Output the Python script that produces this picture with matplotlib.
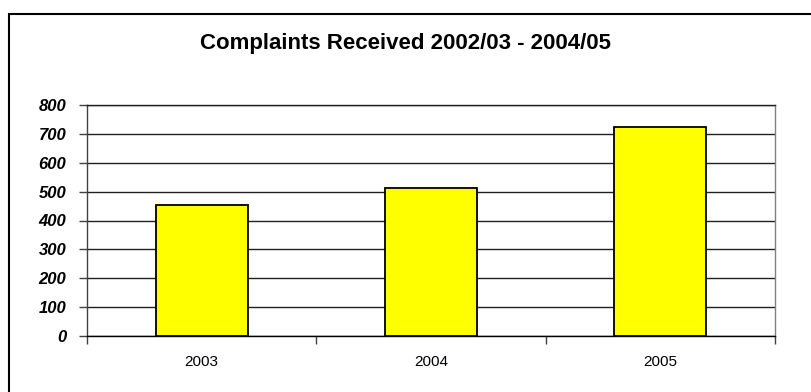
import matplotlib
matplotlib.use("Agg")
import matplotlib.pyplot as plt
from matplotlib.patches import Rectangle

# 各年度收到的投诉数量
years = ["2003", "2004", "2005"]
complaints = [455, 514, 725]
y_ticks = [0, 100, 200, 300, 400, 500, 600, 700, 800]

plt.rcParams['font.family'] = ['Liberation Sans', 'DejaVu Sans']

fig = plt.figure(figsize=(8.11, 3.92), dpi=100)
fig.patch.set_facecolor('white')

# 外框
fig.patches.append(Rectangle((9 / 811, -0.1), 1.2, 1.1 - 14 / 392,
                             transform=fig.transFigure, fill=False,
                             edgecolor='black', linewidth=1.5))

ax = fig.add_axes([87 / 811, 1 - 336 / 392, (775 - 87) / 811, (336 - 105) / 392])

x = range(len(years))
ax.bar(x, complaints, width=0.4, color='#FFFF00', edgecolor='black',
       linewidth=1.3, zorder=3)

ax.set_xlim(-0.5, len(years) - 0.5)
ax.set_ylim(0, 800)
ax.set_yticks(y_ticks)
ax.set_yticklabels([str(v) for v in y_ticks], fontsize=12,
                   fontweight='bold', fontstyle='italic')
ax.set_xticks(list(x))
ax.set_xticklabels(years, fontsize=11)
ax.set_xticks([-0.5, 0.5, 1.5, 2.5], minor=True)

ax.tick_params(axis='y', length=6, width=1, color='#404040', pad=9)
ax.tick_params(axis='x', which='major', length=0, pad=14)
ax.tick_params(axis='x', which='minor', length=6, width=1, color='#404040')

ax.yaxis.grid(True, color='#202020', linewidth=1, zorder=0)
ax.set_axisbelow(True)

ax.spines['left'].set_color('#404040')
ax.spines['right'].set_color('#808080')
ax.spines['top'].set_color('#202020')
ax.spines['bottom'].set_color('black')
for s in ax.spines.values():
    s.set_linewidth(1)

fig.text(0.5, 1 - 44 / 392, 'Complaints Received 2002/03 - 2004/05',
         ha='center', va='center', fontsize=16, fontweight='bold')

fig.savefig('out.png', dpi=100)
